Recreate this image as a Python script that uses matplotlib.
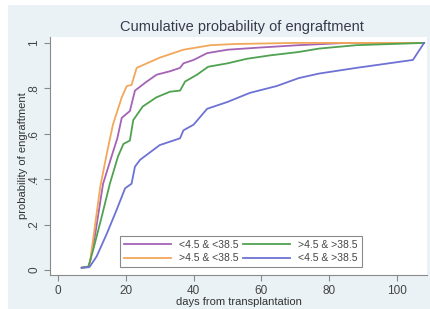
import numpy as np
import matplotlib
matplotlib.use("Agg")
import matplotlib.pyplot as plt
from matplotlib.patches import Rectangle

plt.rcParams["font.family"] = ["Liberation Sans", "DejaVu Sans"]

# days / probability
lo_lo_days = [7, 9, 9.5, 11, 13.3, 15.8, 17.5, 18.8, 21.2, 22.7, 26.2, 29.1, 33,
              36, 37, 40, 44, 50, 60, 71, 85, 108]
lo_lo_prob = [0.01, 0.015, 0.04, 0.16, 0.38, 0.50, 0.58, 0.67, 0.70, 0.79, 0.83,
              0.86, 0.875, 0.89, 0.91, 0.925, 0.955, 0.97, 0.98, 0.99, 1.0, 1.0]

hi_lo_days = [7, 9, 9.5, 10.5, 12.5, 14.5, 16.2, 18.8, 20.3, 21.7, 23.2, 26.2,
              30, 37, 45, 52, 70, 108]
hi_lo_prob = [0.01, 0.015, 0.04, 0.15, 0.37, 0.52, 0.64, 0.76, 0.81, 0.815,
              0.89, 0.91, 0.935, 0.97, 0.99, 0.995, 1.0, 1.0]

hi_hi_days = [7, 9, 10.4, 12.9, 15.3, 17.7, 19.3, 21.2, 22.2, 25, 29, 33, 36,
              37.5, 41, 44.3, 50, 55.7, 62.5, 71, 77, 88, 108]
hi_hi_prob = [0.01, 0.015, 0.09, 0.235, 0.38, 0.50, 0.555, 0.57, 0.66, 0.72,
              0.76, 0.785, 0.79, 0.83, 0.86, 0.895, 0.91, 0.93, 0.945, 0.96,
              0.975, 0.99, 1.0]

lo_hi_days = [7, 9, 9.4, 11.4, 14.4, 17.3, 19.8, 21.7, 22.7, 24.2, 30, 36, 37,
              40, 44, 50, 56.6, 64.5, 71, 77, 88, 104.7, 108]
lo_hi_prob = [0.01, 0.012, 0.015, 0.06, 0.16, 0.265, 0.36, 0.38, 0.455, 0.485,
              0.55, 0.58, 0.615, 0.64, 0.71, 0.74, 0.78, 0.81, 0.845, 0.865,
              0.89, 0.925, 1.0]

labels = ["<4.5 & <38.5", ">4.5 & <38.5", ">4.5 & >38.5", "<4.5 & >38.5"]
yticks = [0, 0.2, 0.4, 0.6, 0.8, 1.0]
yticklabels = ["0", ".2", ".4", ".6", ".8", "1"]
xticks = [0, 20, 40, 60, 80, 100]

W, H = 431, 309
fig = plt.figure(figsize=(W / 100, H / 100), dpi=100)
fig.patch.set_facecolor("white")
fig.patches.append(Rectangle((8 / W, 0), 1, 1 - 5 / H, transform=fig.transFigure,
                             facecolor="#eaf2f5", edgecolor="none", zorder=-10))

ax = fig.add_axes([50 / W, 1 - 275 / H, 377 / W, 238 / H])
ax.set_facecolor("white")

series = [(lo_lo_days, lo_lo_prob, "#a463b4"),
          (hi_lo_days, hi_lo_prob, "#f2a75a"),
          (hi_hi_days, hi_hi_prob, "#4fa24f"),
          (lo_hi_days, lo_hi_prob, "#6d72d4")]
for (d, p, c), lab in zip(series, labels):
    ax.plot(d, p, color=c, lw=1.3, label=lab)

ax.set_xlim(-2.36, 108.85)
ax.set_ylim(-0.022, 1.026)
ax.set_xticks(xticks)
ax.set_yticks(yticks)
ax.set_yticklabels(yticklabels, rotation=90, va="center")
for s in ("top", "right"):
    ax.spines[s].set_visible(False)
for s in ("left", "bottom"):
    ax.spines[s].set_color("#8a8a8a")
    ax.spines[s].set_linewidth(0.8)
ax.tick_params(colors="#8a8a8a", labelcolor="#444444", labelsize=8.5, length=4,
               width=0.8)
ax.tick_params(axis="x", pad=3)
ax.tick_params(axis="y", pad=3)

ax.set_xlabel("days from transplantation", fontsize=8, color="#333333",
              labelpad=0)
ax.set_ylabel("probability of engraftment", fontsize=8, color="#333333",
              labelpad=0)
fig.text(242 / W, 1 - 27 / H, "Cumulative probability of engraftment",
         ha="center", va="center", fontsize=10.5, color="#3a3a4e")

leg = ax.legend(loc="lower left", bbox_to_anchor=(0.172, 0.01, 0.669, 0.155),
                mode="expand", ncol=2, fontsize=7.5, fancybox=False,
                edgecolor="#8a8a8a", framealpha=1, handlelength=4.5,
                borderpad=0.4, labelspacing=0.3, columnspacing=1.0)
leg.get_frame().set_linewidth(0.8)
for t in leg.get_texts():
    t.set_color("#444444")

fig.savefig("out.png", dpi=100)
